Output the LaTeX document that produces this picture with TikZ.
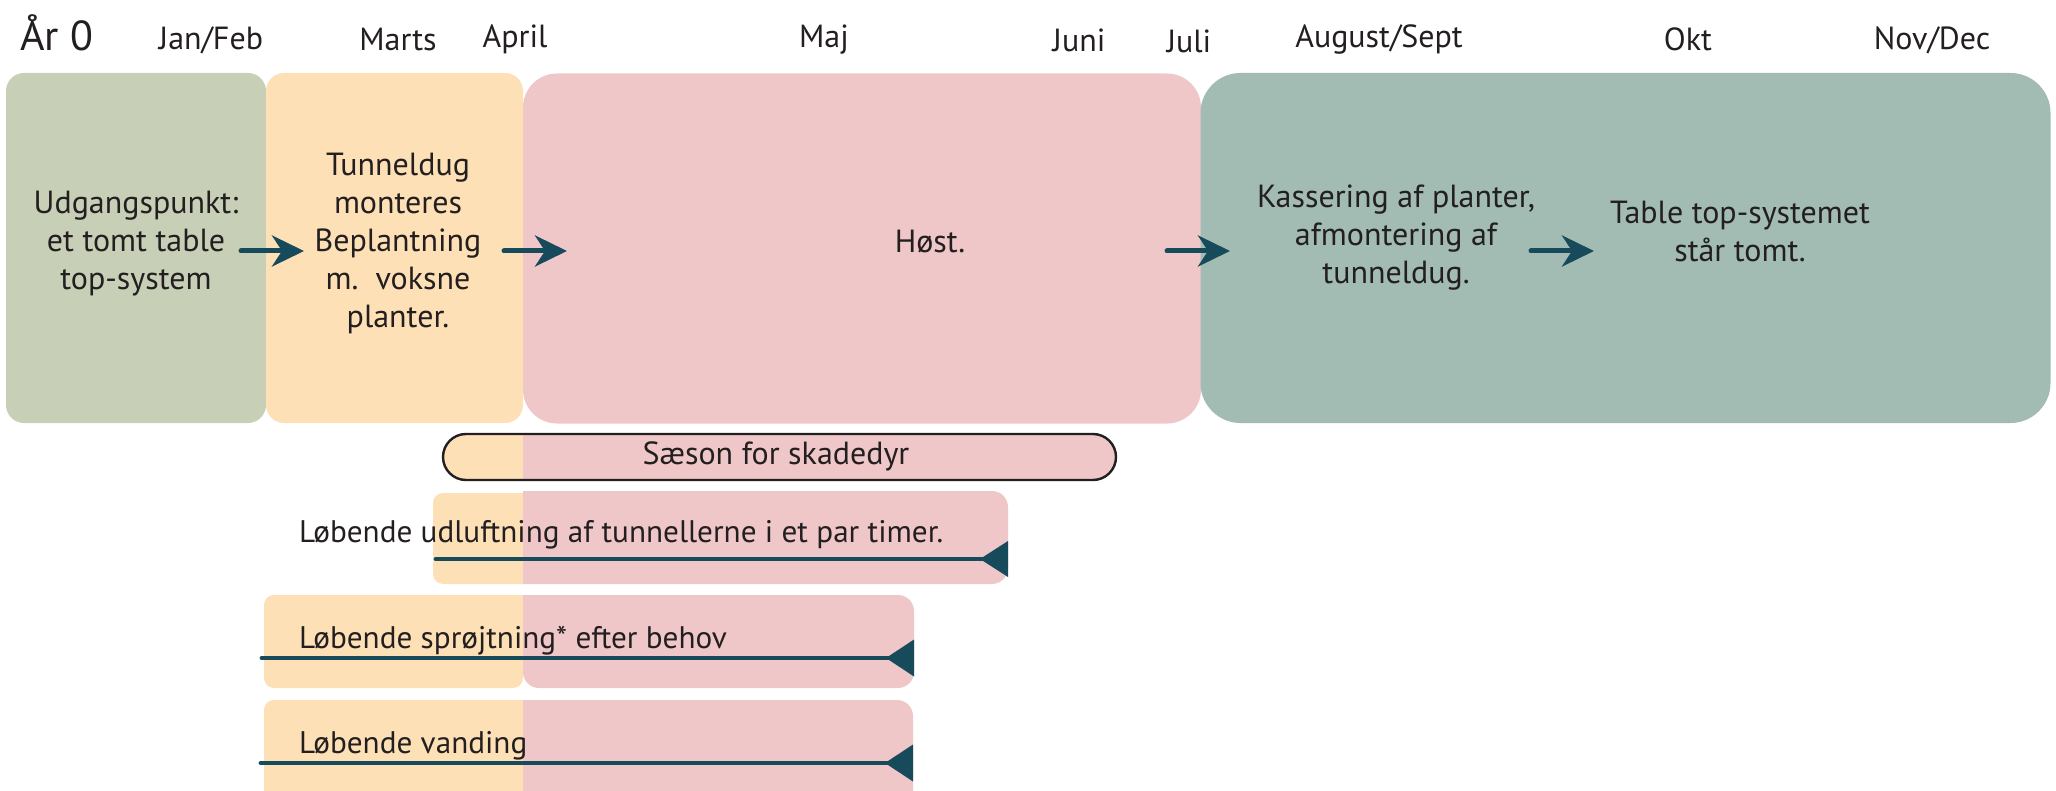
\documentclass[tikz,border=0pt]{standalone}
\usepackage{fontspec}
\setmainfont{PT Sans}
\usetikzlibrary{arrows.meta}

\definecolor{inkc}{HTML}{231F20}
\definecolor{arrowc}{HTML}{174B5C}
\definecolor{greenc}{HTML}{C7CFB6}
\definecolor{yellowc}{HTML}{FDE0B6}
\definecolor{pinkc}{HTML}{EFC7C8}
\definecolor{tealc}{HTML}{A2BBB3}

\begin{document}
\begin{tikzpicture}[x=0.5pt,y=-0.5pt,
  every node/.style={text=inkc, inner sep=0pt, outer sep=0pt},
  phase/.style={rectangle, minimum height=175pt},
  body/.style={align=center, font=\fontsize{16}{19}\selectfont},
  month/.style={font=\fontsize{16}{19}\selectfont},
  bartext/.style={anchor=base west, font=\fontsize{15.6}{19}\selectfont},
  flow/.style={draw=arrowc, line width=2.5pt, line cap=round,
    -{Stealth[length=16pt, width=15.5pt, inset=5pt]}},
  bar/.style={draw=arrowc, line width=2.4pt, line cap=round},
  bartip/.style={fill=arrowc},
]
\useasboundingbox (0,0) rectangle (2056,791);

% ---- year and month headings
\node[anchor=west, font=\fontsize{21}{24}\selectfont] (year) at (20,33) {År 0};
\node[month] (m1) at (211,40) {Jan/Feb};
\node[month] (m2) at (398,39) {Marts};
\node[month] (m3) at (515,39) {April};
\node[month] (m4) at (824,40) {Maj};
\node[month] (m5) at (1079,40) {Juni};
\node[month] (m6) at (1189,41) {Juli};
\node[month] (m7) at (1379,40) {August/Sept};
\node[month] (m8) at (1688,39) {Okt};
\node[month] (m9) at (1932,40) {Nov/Dec};

% ---- phase blocks
\node[phase, fill=greenc, minimum width=130pt, rounded corners=9pt] (start) at (136,248) {};
\node[phase, fill=yellowc, minimum width=128.5pt, rounded corners=9pt] (plant) at (394.5,248) {};
\node[phase, fill=pinkc, minimum width=339pt, rounded corners=17pt] (harvest) at (862,248.5) {};
\node[phase, fill=tealc, minimum width=425pt, rounded corners=20pt] (empty) at (1625.5,248) {};

% ---- texts of the phases
\node[body] (t-start) at (136,244) {Udgangspunkt:\\et tomt table\\top-system};
\node[body] (t-plant) at (398,244) {Tunneldug\\monteres\\Beplantning\\m.\ \ voksne\\planter.};
\node[body] (t-harvest) at (930,242) {Høst.};
\node[body] (t-discard) at (1396,238) {Kassering af planter,\\afmontering af\\tunneldug.};
\node[body] (t-idle) at (1740,231) {Table top-systemet\\står tomt.};

% ---- flow arrows between the phases
\coordinate (a1s) at (241,251); \coordinate (a1e) at (304,251);
\coordinate (a2s) at (504,251); \coordinate (a2e) at (567,251);
\coordinate (a3s) at (1167,251); \coordinate (a3e) at (1230,251);
\coordinate (a4s) at (1531,251); \coordinate (a4e) at (1594,251);
\draw[flow] (a1s) -- (a1e);
\draw[flow] (a2s) -- (a2e);
\draw[flow] (a3s) -- (a3e);
\draw[flow] (a4s) -- (a4e);

% ---- pest season pill
\begin{scope}
  \clip[rounded corners=11.5pt] (443,434) rectangle (1116,480);
  \fill[pinkc] (443,434) rectangle (1116,480);
  \fill[yellowc] (443,434) rectangle (523,480);
\end{scope}
\node[draw=inkc, line width=1.2pt, rounded corners=11.5pt,
  minimum width=336.5pt, minimum height=23pt] (season) at (779.5,457) {};
\node[month] (t-season) at (776,456) {Sæson for skadedyr};

% ---- ventilation bar
\fill[yellowc] (523,493) [rounded corners=5pt] -- (433,493) -- (433,584) [sharp corners] -- (523,584) -- cycle;
\fill[pinkc] (523,491) [rounded corners=8pt] -- (1008,491) -- (1008,584) [sharp corners] -- (523,584) -- cycle;
\node[bartext] (t-vent) at (299,542) {Løbende udluftning af tunnellerne i et par timer.};
\coordinate (v-s) at (436,559); \coordinate (v-e) at (1008,559);
\draw[bar] (v-s) -- ([xshift=-12pt]v-e);
\fill[bartip] (v-e) ++(0,-18) -- ++(0,36) -- ++(-28,-18) -- cycle;

% ---- spraying bar
\fill[yellowc] (523,595) [rounded corners=5pt] -- (264,595) -- (264,688) -- (523,688) [sharp corners] -- cycle;
\fill[pinkc] (523,595) [rounded corners=8pt] -- (914,595) -- (914,688) -- (523,688) [sharp corners] -- cycle;
\node[bartext] (t-spray) at (299,648) {Løbende sprøjtning* efter behov};
\coordinate (s-s) at (262,658); \coordinate (s-e) at (914,658);
\draw[bar] (s-s) -- ([xshift=-12pt]s-e);
\fill[bartip] (s-e) ++(0,-18.5) -- ++(0,37) -- ++(-28,-18.5) -- cycle;

% ---- watering bar
\fill[yellowc] (523,700) [rounded corners=5pt] -- (264,700) [sharp corners] -- (264,795) -- (523,795) -- cycle;
\fill[pinkc] (523,700) [rounded corners=8pt] -- (913,700) [sharp corners] -- (913,795) -- (523,795) -- cycle;
\node[bartext] (t-water) at (299,753) {Løbende vanding};
\coordinate (w-s) at (261,763); \coordinate (w-e) at (913,763);
\draw[bar] (w-s) -- ([xshift=-12pt]w-e);
\fill[bartip] (w-e) ++(0,-18.5) -- ++(0,37) -- ++(-28,-18.5) -- cycle;
\end{tikzpicture}
\end{document}
